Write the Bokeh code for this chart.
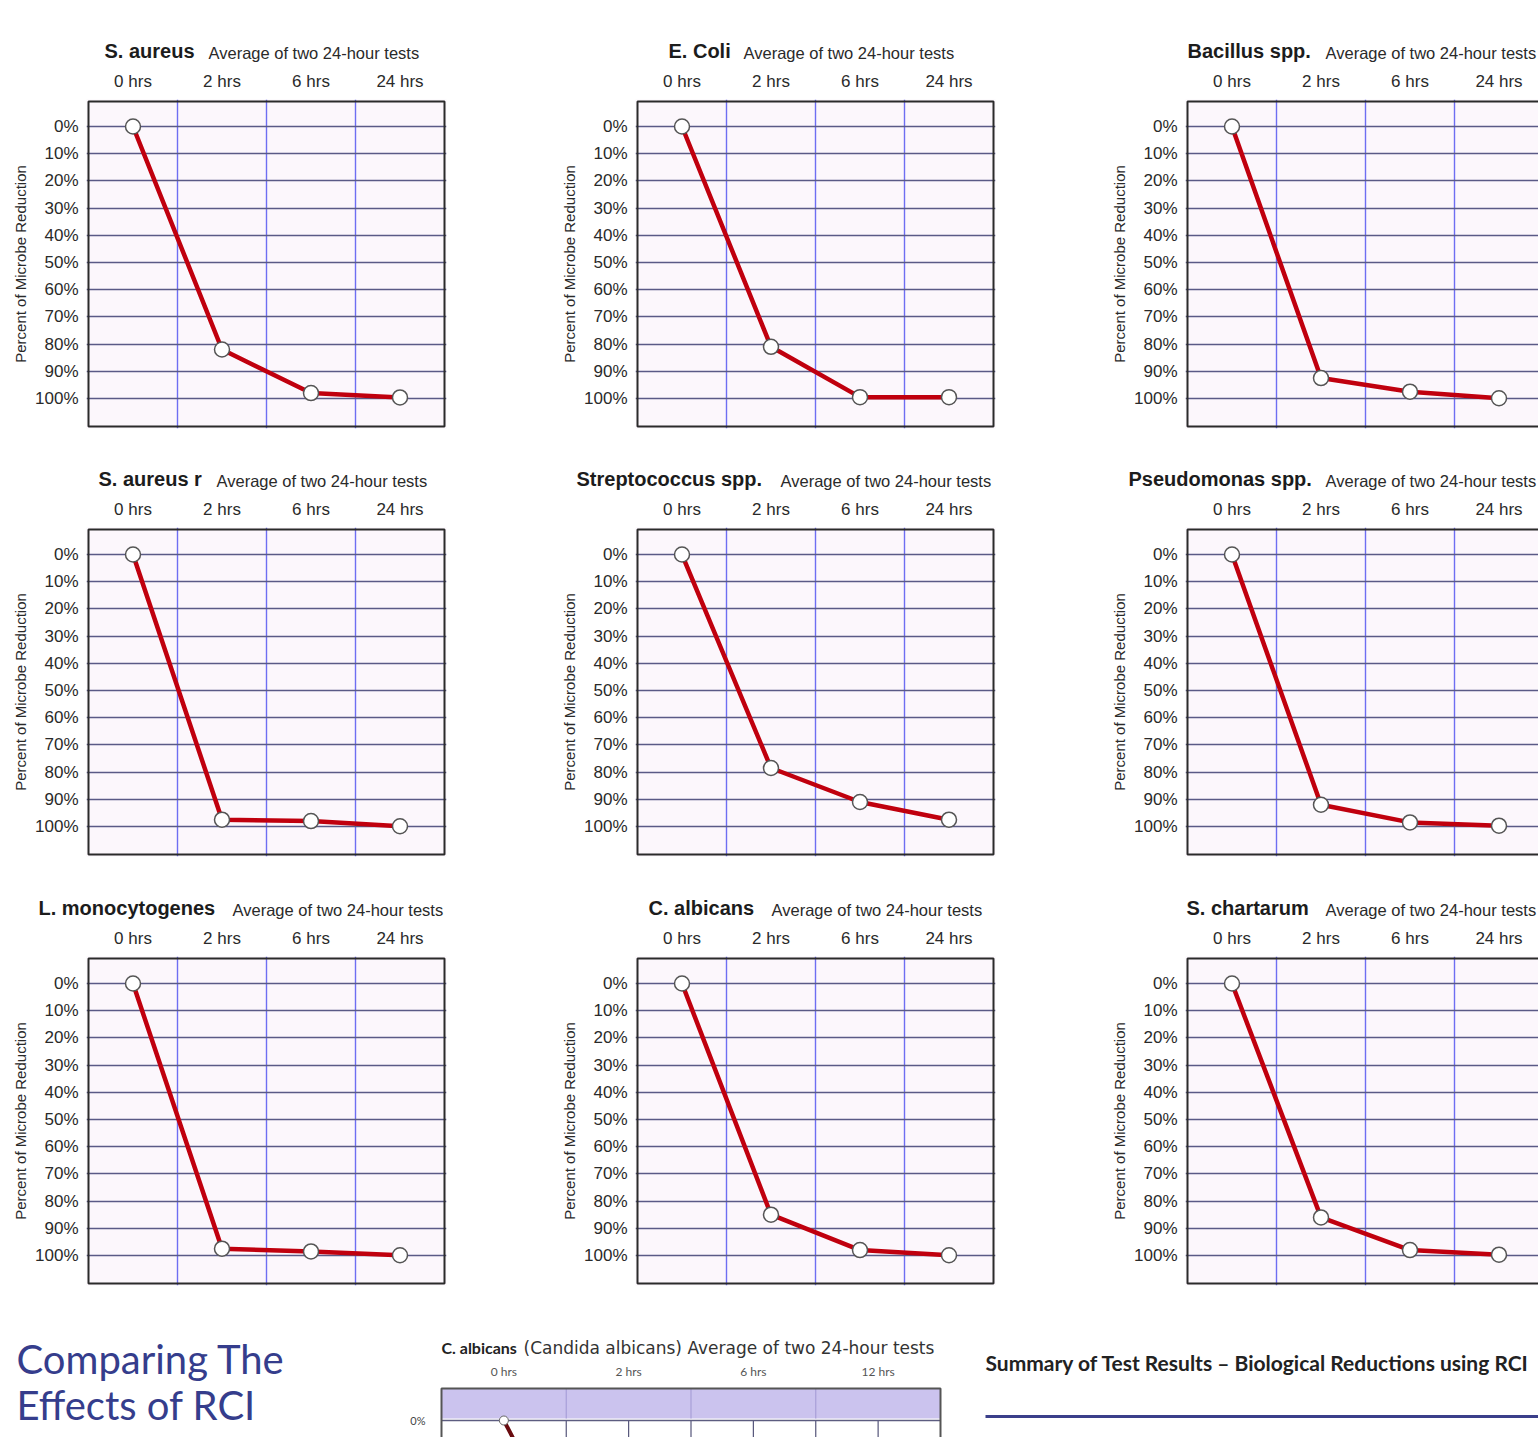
from bokeh.plotting import figure
from bokeh.layouts import column, row
from bokeh.models import Range1d, FixedTicker, CustomJSTickFormatter, PrintfTickFormatter, Label
from bokeh.embed import file_html
from bokeh.resources import INLINE

# ---------------- data ----------------
hours = ["0 hrs", "2 hrs", "6 hrs", "24 hrs"]
pct_ticks = [0, 10, 20, 30, 40, 50, 60, 70, 80, 90, 100]

s_aureus = [0, 82, 98, 99.6]
e_coli = [0, 81, 99.5, 99.5]
bacillus = [0, 92.5, 97.5, 99.9]
s_aureus_r = [0, 97.5, 98, 99.9]
streptococcus = [0, 78.5, 91, 97.5]
pseudomonas = [0, 92, 98.5, 99.7]
l_monocytogenes = [0, 97.5, 98.5, 99.9]
c_albicans = [0, 85, 98, 99.9]
s_chartarum = [0, 86, 98, 99.7]

names = ["S. aureus", "E. Coli", "Bacillus spp.",
         "S. aureus r", "Streptococcus spp.", "Pseudomonas spp.",
         "L. monocytogenes", "C. albicans", "S. chartarum"]
series = [s_aureus, e_coli, bacillus,
          s_aureus_r, streptococcus, pseudomonas,
          l_monocytogenes, c_albicans, s_chartarum]
subtitle = "Average of two 24-hour tests"
y_label = "Percent of Microbe Reduction"

# extra (cut-off) chart at the bottom of the page
hours12 = ["0 hrs", "2 hrs", "6 hrs", "12 hrs"]
c_albicans_12 = [0, 80, 95, 99]

# ---------------- layout constants ----------------
TOTAL_W = 1538
PX_X = 89.0      # px per column
PX_Y = 2.72      # px per percent
BOX_TOP = -9.2
BOX_BOT = 110.3
PAD = 2
FONT = "Liberation Sans"
GEO = "Lato"
GEO_WIDE = "DejaVu Sans"

# title positions (page px)
title_x = [104, 668, 1187, 98, 576, 1128, 38, 648, 1186]
sub_x = [208, 743, 1325, 216, 780, 1325, 232, 771, 1325]

col_w = [557, 550, 431]
col_bl = [86, 78, 78]
# (strip top, strip height, chart top border, chart bottom border, title centre y)
rows_geo = [(0, 63, 36, 8, 50), (436, 55, 36, 8, 478), (864, 56, 36, 7, 907)]


def strip(y0, h):
    s = figure(width=TOTAL_W, height=h, x_range=Range1d(0, TOTAL_W),
               y_range=Range1d(y0 + h, y0), x_axis_type=None, y_axis_type=None,
               output_backend="svg", toolbar_location=None, min_border=0,
               outline_line_color=None, background_fill_color="white",
               border_fill_color="white")
    s.xgrid.visible = False
    s.ygrid.visible = False
    return s


def make_chart(i, col, top_b, bot_b):
    w = col_w[col]
    bl = col_bl[col]
    frame_h = 325 + 2 * PAD
    frame_w = 356 + 2 * PAD if col < 2 else w - bl
    x0 = -PAD / PX_X
    x1 = x0 + frame_w / PX_X
    yb = BOX_BOT + PAD / PX_Y
    yt = BOX_TOP - PAD / PX_Y
    p = figure(width=w, height=top_b + frame_h + bot_b,
               x_range=Range1d(x0, x1), y_range=Range1d(yb, yt),
               x_axis_location="above", output_backend="svg",
               toolbar_location=None,
               min_border_left=bl, min_border_right=w - bl - frame_w,
               min_border_top=top_b, min_border_bottom=bot_b,
               background_fill_color="#fcf7fc", border_fill_color="white",
               outline_line_color=None)
    p.ygrid.ticker = FixedTicker(ticks=pct_ticks)
    p.ygrid.grid_line_color = "#5a5a86"
    p.ygrid.grid_line_width = 1.4
    p.xgrid.ticker = FixedTicker(ticks=[1, 2, 3])
    p.xgrid.grid_line_color = "#6e6ef2"
    p.xgrid.grid_line_width = 1.4
    for ax in (p.xaxis[0], p.yaxis[0]):
        ax.axis_line_color = None
        ax.major_tick_line_color = None
        ax.minor_tick_line_color = None
        ax.major_tick_out = 0
        ax.major_tick_in = 0
        ax.minor_tick_out = 0
        ax.minor_tick_in = 0
        ax.major_label_text_font = FONT
        ax.major_label_text_color = "#2a2a2a"
    xa = p.xaxis[0]
    xa.ticker = FixedTicker(ticks=[0.5, 1.5, 2.5, 3.5])
    xa.formatter = CustomJSTickFormatter(args=dict(labels=hours),
                                         code="return labels[Math.floor(tick)];")
    xa.major_label_standoff = 9
    xa.major_label_text_font_size = "17px"
    ya = p.yaxis[0]
    ya.ticker = FixedTicker(ticks=pct_ticks)
    ya.formatter = PrintfTickFormatter(format="%d%%")
    ya.major_label_standoff = 8
    ya.major_label_text_font_size = "17px"
    ya.axis_label = y_label
    ya.axis_label_text_font = FONT
    ya.axis_label_text_font_style = "normal"
    ya.axis_label_text_font_size = "15px"
    ya.axis_label_text_color = "#2a2a2a"
    ya.axis_label_standoff = 3
    p.quad(left=0, right=4, top=BOX_TOP, bottom=BOX_BOT, fill_color=None,
           line_color="#2b2b2b", line_width=2)
    xs = [0.5, 1.5, 2.5, 3.5]
    p.line(xs, series[i], line_color="#c0000e", line_width=4.5)
    p.scatter(xs, series[i], marker="circle", size=15, fill_color="white",
              line_color="#555555", line_width=1.5)
    return p


items = []
for r, (y0, sh, top_b, bot_b, ty) in enumerate(rows_geo):
    s = strip(y0, sh)
    for c in range(3):
        i = r * 3 + c
        s.add_layout(Label(x=title_x[i], y=ty, text=names[i], text_font=FONT,
                           text_font_style="bold", text_font_size="20px",
                           text_baseline="middle", text_color="#1c1c1c"))
        s.add_layout(Label(x=sub_x[i], y=ty + 2, text=subtitle, text_font=FONT,
                           text_font_size="16.5px", text_baseline="middle",
                           text_color="#2a2a2a"))
    items.append(s)
    items.append(row(*[make_chart(r * 3 + c, c, top_b, bot_b) for c in range(3)]))

# ---------------- bottom strip ----------------
BY0, BH = 1292, 145


def blank(x0, w):
    b = figure(width=w, height=BH, x_range=Range1d(x0, x0 + w), y_range=Range1d(BY0 + BH, BY0),
               x_axis_type=None, y_axis_type=None, output_backend="svg",
               toolbar_location=None, min_border=0, outline_line_color=None,
               background_fill_color="white", border_fill_color="white")
    b.xgrid.visible = False
    b.ygrid.visible = False
    return b


b1 = blank(0, 400)
b1.add_layout(Label(x=16, y=1358, text="Comparing The", text_font=GEO,
                    text_font_size="40px", text_baseline="middle", text_color="#353d8c"))
b1.add_layout(Label(x=16, y=1404, text="Effects of RCI", text_font=GEO,
                    text_font_size="40px", text_baseline="middle", text_color="#353d8c"))

b3 = blank(960, TOTAL_W - 960)
b3.add_layout(Label(x=985, y=1362, text="Summary of Test Results \u2013 Biological Reductions using RCI",
                    text_font=GEO, text_font_style="bold", text_font_size="21px",
                    text_baseline="middle", text_color="#222222"))
b3.segment(x0=[985], y0=[1416], x1=[TOTAL_W], y1=[1416], line_color="#3b3f8a", line_width=3)

# mini chart (cut off by the page bottom)
PX_X2 = 124.75
PX_Y2 = 3.0
ZERO_Y2 = 1420
BOX_L2 = 441
BOX_TOP2 = (1388 - ZERO_Y2) / PX_Y2
b2 = figure(width=560, height=BH,
            x_range=Range1d((400 - BOX_L2) / PX_X2, (960 - BOX_L2) / PX_X2),
            y_range=Range1d((BY0 + BH - ZERO_Y2) / PX_Y2, (BY0 - ZERO_Y2) / PX_Y2),
            x_axis_type=None, y_axis_type=None, output_backend="svg",
            toolbar_location=None, min_border=0, outline_line_color=None,
            background_fill_color="white", border_fill_color="white")
b2.xgrid.visible = False
b2.ygrid.visible = False
b2.quad(left=0, right=4, top=BOX_TOP2, bottom=-0.7, fill_color="#cbc3ee", line_color=None)
b2.segment(x0=[1, 2, 3], y0=[BOX_TOP2] * 3, x1=[1, 2, 3], y1=[-0.7] * 3,
           line_color="#a89fd8", line_width=1.2)
b2.segment(x0=[1, 1.5, 2, 2.5, 3, 3.5], y0=[0] * 6, x1=[1, 1.5, 2, 2.5, 3, 3.5], y1=[20] * 6,
           line_color="#55557a", line_width=1.2)
b2.segment(x0=[0], y0=[0], x1=[4], y1=[0], line_color="#5c5c80", line_width=1.5)
b2.quad(left=0, right=4, top=BOX_TOP2, bottom=40, fill_color=None,
        line_color="#555555", line_width=2)
mxs = [0.5, 1.5, 2.5, 3.5]
b2.line(mxs, c_albicans_12, line_color="#6a0c10", line_width=4)
b2.scatter(mxs, c_albicans_12, marker="circle", size=9, fill_color="white",
           line_color="#666666", line_width=1)
b2.text(x=mxs, y=[(1371 - ZERO_Y2) / PX_Y2] * 4, text=hours12, text_font={"value": GEO},
        text_font_size="12px", text_align="center", text_baseline="middle", text_color="#555555")
b2.text(x=[(425 - BOX_L2) / PX_X2], y=[0], text=["0%"], text_font={"value": GEO},
        text_font_size="11px", text_align="right", text_baseline="middle", text_color="#444444")
b2.add_layout(Label(x=0, y=(1347 - ZERO_Y2) / PX_Y2, text="C. albicans", text_font=GEO,
                    text_font_style="bold", text_font_size="16px", text_baseline="middle",
                    text_color="#222222"))
b2.add_layout(Label(x=(523 - BOX_L2) / PX_X2, y=(1347 - ZERO_Y2) / PX_Y2,
                    text="(Candida albicans) Average of two 24-hour tests", text_font=GEO_WIDE,
                    text_font_size="17px", text_baseline="middle", text_color="#333333"))

items.append(row(b1, b2, b3))
page = column(*items)

open("out.html", "w").write(file_html(page, INLINE))
